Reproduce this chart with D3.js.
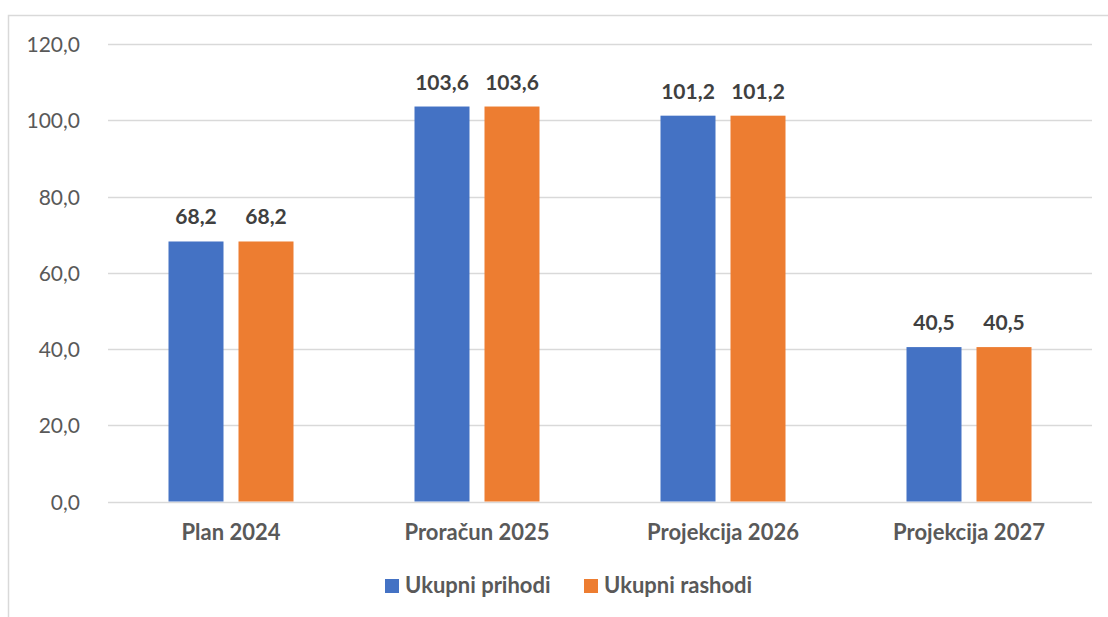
<!DOCTYPE html>
<html>
<head>
<meta charset="utf-8">
<script src="https://cdn.jsdelivr.net/npm/d3@7"></script>
<style>
  body { margin: 0; background: #fff; }
  svg { display: block; font-family: Lato, "Open Sans", sans-serif; }
</style>
</head>
<body>
<svg id="chart" width="1108" height="617"></svg>
<script>
var categories = ["Plan 2024", "Proračun 2025", "Projekcija 2026", "Projekcija 2027"];
var seriesNames = ["Ukupni prihodi", "Ukupni rashodi"];
var prihodi = [68.2, 103.6, 101.2, 40.5];
var rashodi = [68.2, 103.6, 101.2, 40.5];
var yTicks = [0, 20, 40, 60, 80, 100, 120];
var colors = ["#4472C4", "#ED7D31"];

var svg = d3.select("#chart");
var margin = { left: 108, right: 16 };
var W = 1108;

// chart frame (cropped on right/bottom)
svg.append("path")
    .attr("d", "M8.5,617 L8.5,15.5 L1108,15.5")
    .attr("fill", "none")
    .attr("stroke", "#D9D9D9")
    .attr("stroke-width", 1.5);

var x0 = d3.scaleBand()
    .domain(categories)
    .range([margin.left, W - margin.right]);

var y = d3.scaleLinear()
    .domain([0, 120])
    .range([501.5, 44]);

var fmt = function (v) { return d3.format(".1f")(v).replace(".", ","); };

// gridlines
svg.append("g").selectAll("line")
    .data(yTicks)
    .enter().append("line")
    .attr("x1", margin.left)
    .attr("x2", W - margin.right)
    .attr("y1", function (d) { return Math.round(y(d)) + 0.5; })
    .attr("y2", function (d) { return Math.round(y(d)) + 0.5; })
    .attr("stroke", "#D9D9D9")
    .attr("stroke-width", 1.3);

// y axis labels
var yAxis = d3.axisLeft(y).tickValues(yTicks).tickFormat(fmt).tickSize(0).tickPadding(28);
var gy = svg.append("g").attr("transform", "translate(" + margin.left + ",0)").call(yAxis);
gy.select(".domain").remove();
gy.selectAll("text")
    .attr("fill", "#595959")
    .attr("dy", "0.36em")
    .style("font-size", "21px")
    .style("font-family", "Lato, sans-serif");

// bars
var data = categories.map(function (c, i) {
    return { cat: c, vals: [prihodi[i], rashodi[i]] };
});
var barW = 55, gap = 15;
var groups = svg.append("g").selectAll("g")
    .data(data)
    .enter().append("g")
    .attr("transform", function (d) {
        return "translate(" + (x0(d.cat) + x0.bandwidth() / 2) + ",0)";
    });

groups.selectAll("rect")
    .data(function (d) { return d.vals; })
    .enter().append("rect")
    .attr("x", function (d, i) { return i === 0 ? -gap / 2 - barW : gap / 2; })
    .attr("width", barW)
    .attr("y", function (d) { return y(d); })
    .attr("height", function (d) { return y(0) - y(d); })
    .attr("fill", function (d, i) { return colors[i]; });

groups.selectAll("text")
    .data(function (d) { return d.vals; })
    .enter().append("text")
    .attr("x", function (d, i) { return i === 0 ? -gap / 2 - barW / 2 : gap / 2 + barW / 2; })
    .attr("y", function (d) { return y(d) - 17; })
    .attr("text-anchor", "middle")
    .attr("fill", "#404040")
    .style("font-size", "21px")
    .style("font-weight", "bold")
    .text(fmt);

// category labels
var xAxis = d3.axisBottom(x0).tickSize(0).tickPadding(0);
var gx = svg.append("g").attr("transform", "translate(0," + y(0) + ")").call(xAxis);
gx.select(".domain").remove();
gx.selectAll("text")
    .attr("y", 38)
    .attr("dy", 0)
    .attr("fill", "#595959")
    .style("font-size", "22px")
    .style("font-weight", "bold")
    .style("font-family", "Lato, sans-serif");

// legend
var legendX = [385, 584];
var legend = svg.append("g").selectAll("g")
    .data(seriesNames)
    .enter().append("g")
    .attr("transform", function (d, i) { return "translate(" + legendX[i] + ",579)"; });
legend.append("rect")
    .attr("width", 14)
    .attr("height", 14)
    .attr("fill", function (d, i) { return colors[i]; });
legend.append("text")
    .attr("x", 20)
    .attr("y", 14)
    .attr("fill", "#595959")
    .style("font-size", "22px")
    .style("font-weight", "bold")
    .text(function (d) { return d; });
</script>
</body>
</html>
